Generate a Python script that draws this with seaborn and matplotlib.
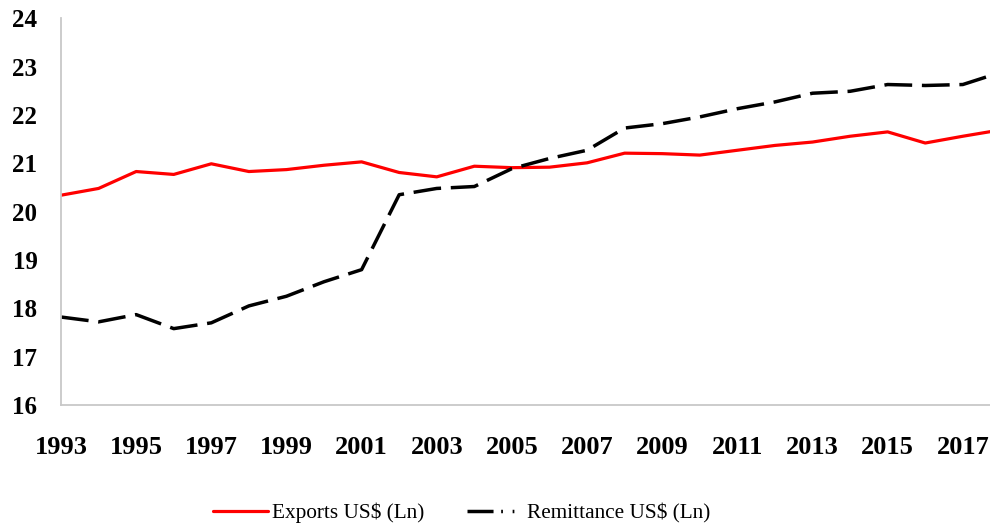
import matplotlib
matplotlib.use("Agg")
import matplotlib.pyplot as plt
from matplotlib.lines import Line2D
import seaborn as sns

# values
years = list(range(1993, 2019))
exports_ln = [20.34, 20.48, 20.83, 20.77, 20.99, 20.83, 20.87, 20.96, 21.03, 20.81,
              20.72, 20.94, 20.91, 20.92, 21.01, 21.21, 21.20, 21.17, 21.27, 21.37,
              21.44, 21.56, 21.65, 21.42, 21.56, 21.69]
remit_ln = [17.82, 17.72, 17.87, 17.58, 17.70, 18.05, 18.25, 18.55, 18.80, 20.35,
            20.48, 20.52, 20.89, 21.10, 21.27, 21.73, 21.82, 21.96, 22.13, 22.27,
            22.45, 22.49, 22.63, 22.61, 22.63, 22.88]
xtick_years = list(range(1993, 2018, 2))
ytick_vals = list(range(16, 25))

sns.set_style("white")
plt.rcParams['font.family'] = ['Liberation Serif', 'DejaVu Serif']
plt.rcParams['text.color'] = 'black'
plt.rcParams['xtick.color'] = 'black'
plt.rcParams['ytick.color'] = 'black'

fig = plt.figure(figsize=(9.9, 5.29), dpi=100)
# the plot area runs a little past the right edge, like the cropped original
ax = fig.add_axes([61 / 990, 124 / 529, 939.4 / 990, 386.7 / 529])

sns.lineplot(x=years, y=exports_ln, ax=ax, color='#FF0000', linewidth=2.3)
sns.lineplot(x=years, y=remit_ln, ax=ax, color='black', linewidth=2.5)
ax.lines[1].set_linestyle((0, (8.0, 2.8)))
ax.lines[1].set_dash_capstyle('butt')

ax.set_xlim(1993, 2018)
ax.set_ylim(16, 24)
ax.set_xticks(xtick_years)
ax.set_yticks(ytick_vals)
ax.tick_params(axis='x', length=0, pad=22, labelsize=19, labelcolor='black')
ax.tick_params(axis='y', length=0, pad=17, labelsize=18, labelcolor='black')
for lab in ax.get_xticklabels() + ax.get_yticklabels():
    lab.set_fontweight('bold')

for side in ['top', 'right']:
    ax.spines[side].set_visible(False)
for side in ['left', 'bottom']:
    ax.spines[side].set_color('#C8C8C8')
    ax.spines[side].set_linewidth(1.3)
ax.grid(False)

# legend handles (remittance uses the long-dash-dot-dot style)
h_exp = Line2D([], [], color='#FF0000', linewidth=2.3)
h_rem = Line2D([], [], color='black', linewidth=2.5,
               linestyle=(0, (7.5, 2.2, 0.5, 2.8, 0.5, 3)), dash_capstyle='butt')
fig.legend([h_exp, h_rem], ['Exports US$ (Ln)', 'Remittance US$ (Ln)'],
           loc='center', bbox_to_anchor=(0.466, 0.03), ncol=2, frameon=False,
           fontsize=15.3, handlelength=2.6, handletextpad=0.2, columnspacing=2.0,
           labelcolor='black')

fig.savefig('out.png', dpi=100)
